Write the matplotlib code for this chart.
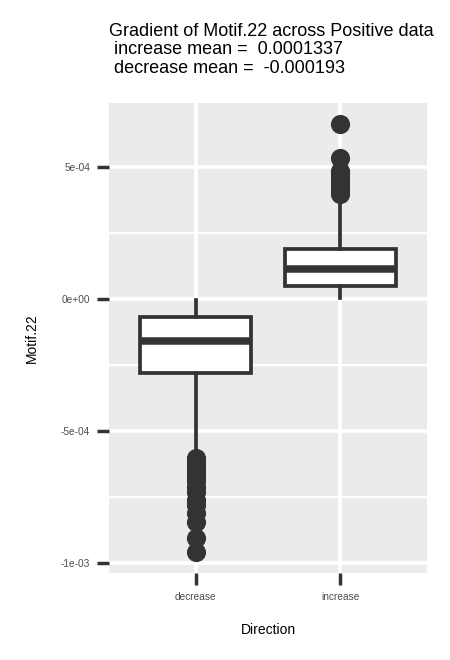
import numpy as np
import matplotlib
matplotlib.use('Agg')
import matplotlib.pyplot as plt

plt.rcParams['font.family'] = ['Liberation Sans', 'DejaVu Sans']

# box statistics (units of 1e-4)
categories = ['decrease', 'increase']
q1 = [-2.81, 0.50]
med = [-1.58, 1.14]
q3 = [-0.67, 1.89]
whislo = [-5.9, 0.03]
whishi = [-0.02, 3.8]
outliers_decrease = [-6.0, -6.1, -6.2, -6.3, -6.4, -6.5, -6.6, -6.75, -6.9, -7.1,
                     -7.3, -7.6, -7.8, -8.1, -8.45, -9.05, -9.58]
outliers_increase = [3.98, 4.1, 4.2, 4.3, 4.45, 4.6, 4.75, 4.85, 5.35, 6.63]

ytick_vals = [-10, -5, 0, 5]
ytick_labels = ['-1e-03', '-5e-04', '0e+00', '5e-04']

title = ('Gradient of Motif.22 across Positive data\n'
         ' increase mean =  0.0001337\n'
         ' decrease mean =  -0.000193')

scale = 1e-4
fliers = [outliers_decrease, outliers_increase]
stats = []
for i in range(len(categories)):
    stats.append(dict(label=categories[i],
                      q1=q1[i] * scale, med=med[i] * scale, q3=q3[i] * scale,
                      whislo=whislo[i] * scale, whishi=whishi[i] * scale,
                      fliers=np.array(fliers[i]) * scale))

dark = '#333333'
fig = plt.figure(figsize=(4.5, 6.6), dpi=100)
ax = fig.add_axes([109 / 450, 1 - 573 / 660, 318 / 450, 470 / 660])
ax.set_facecolor('#EBEBEB')
for s in ax.spines.values():
    s.set_visible(False)

ax.bxp(stats, positions=[1, 2], widths=0.765, patch_artist=True, showcaps=False,
       boxprops=dict(facecolor='white', edgecolor=dark, linewidth=2.7),
       medianprops=dict(color=dark, linewidth=5.4, solid_capstyle='butt'),
       whiskerprops=dict(color=dark, linewidth=2.7),
       flierprops=dict(marker='o', markerfacecolor=dark, markeredgewidth=0,
                       markersize=13.8),
       zorder=3)

ax.set_xlim(0.4, 2.6)
ax.set_ylim(-10.37 * scale, 7.42 * scale)
ax.set_xticks([1, 2])
ax.set_xticklabels(categories)
ax.set_yticks([v * scale for v in ytick_vals])
ax.set_yticklabels(ytick_labels)
ax.set_yticks([v * scale for v in [-7.5, -2.5, 2.5]], minor=True)

ax.grid(True, which='major', color='white', linewidth=2.6, zorder=0)
ax.grid(True, which='minor', axis='y', color='white', linewidth=1.5, zorder=0)
ax.set_axisbelow(True)

ax.tick_params(axis='both', which='major', length=8.6, width=2.5, color=dark,
               labelsize=7.3, labelcolor='#4D4D4D', pad=5)
ax.tick_params(axis='y', which='minor', length=0)

ax.set_xlabel('Direction', fontsize=10, va='center')
ax.xaxis.set_label_coords(0.5, (573 - 630) / 470)
ax.set_ylabel('Motif.22', fontsize=10, va='center')
ax.yaxis.set_label_coords((31.7 - 109) / 318, 0.5)

fig.text(109 / 450, 1 - 23 / 660, title, ha='left', va='top', fontsize=13,
         linespacing=1.1)

fig.savefig('out.png', dpi=100)
